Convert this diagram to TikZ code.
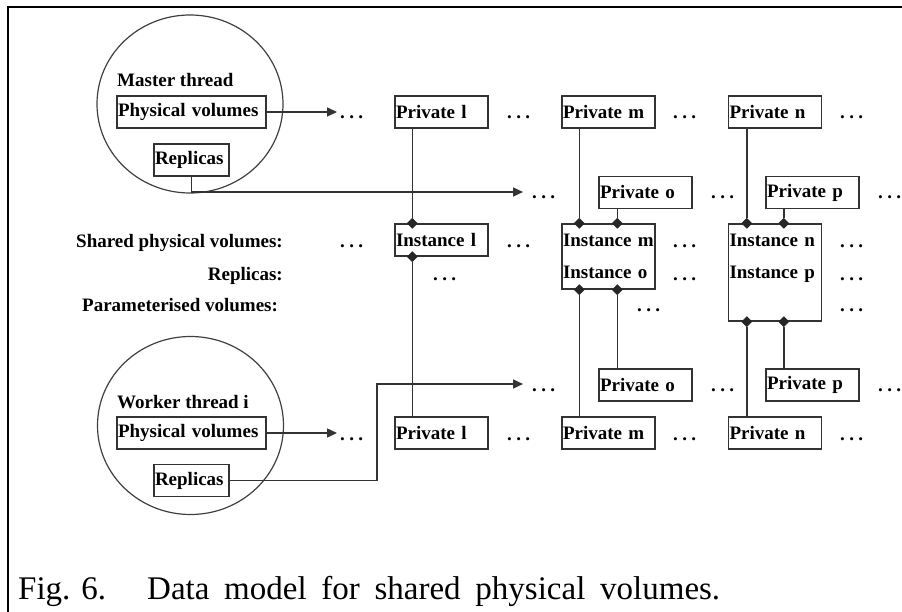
\documentclass[tikz,border=0pt]{standalone}
\usepackage{fontspec}
\setmainfont{Liberation Serif}
\usepackage{tikz}
\usetikzlibrary{shapes}
\usetikzlibrary{shapes.geometric}
\usetikzlibrary{arrows.meta}
\usetikzlibrary{calc}
\newcommand{\trdots}{\hbox to 23pt{.\hss.\hss.}}
\tikzset{
	vol/.style={
		draw=black!80,
		line width=1.4,
		inner xsep=1,
		inner ysep=0,
		text width=#1,
		align=left,
		minimum height=32,
		font=\bfseries\fontsize{19}{32}\selectfont
	},
	vol/.default=91,
	thread/.style={
		ellipse,
		draw=black!75,
		line width=1.2,
		inner sep=0,
		minimum width=186,
		minimum height=178
	},
	dmd/.style={
		diamond,
		fill=black!85,
		inner sep=0,
		minimum size=11
	},
	wire/.style={draw=black!80,line width=1.4},
	arr/.style={wire,-{Triangle[length=10,width=9]}},
	lbl/.style={inner sep=0,font=\bfseries\fontsize{19}{32}\selectfont},
	dts/.style={lbl,anchor=base west}
}

\begin{document}
\begin{tikzpicture}[x=1pt,y=-1pt]
	\useasboundingbox (0,0) rectangle (902,612);
	% frame
	\draw[line width=2.6] (8,640) -- (8,7) -- (930,7);

	% master thread
	\node[thread] (mst) at (190,104) {};
	\node[lbl,anchor=base west] (mstlbl) at (117,87) {Master thread};
	\node[vol=147] (pvm) at (191.5,112) {Physical volumes};
	\node[vol=73] (repm) at (191.5,160) {Replicas};
	\coordinate (tpm) at (337,112);
	\coordinate (cm) at (191.5,192);
	\coordinate (tcm) at (523,192);
	\draw[arr] (pvm.east) -- (tpm);
	\draw[arr] (repm.south) -- (cm) -- (tcm);

	% worker thread
	\node[thread] (wrk) at (190.5,425.5) {};
	\node[lbl,anchor=base west] (wrklbl) at (117,408) {Worker thread i};
	\node[vol=147] (pvw) at (191.5,433) {Physical volumes};
	\node[vol=73] (repw) at (191.5,480.5) {Replicas};
	\coordinate (tpw) at (337,433);
	\coordinate (cw) at (377,384);
	\coordinate (tcw) at (523,384);
	\draw[arr] (pvw.east) -- (tpw);
	\draw[arr] (repw.east) -| (cw) -- (tcw);

	% left labels
	\node[lbl,anchor=base east] (shlbl) at (283,248) {Shared physical volumes:};
	\node[lbl,anchor=base east] (rplbl) at (283,280) {Replicas:};
	\node[lbl,anchor=base west] (prlbl) at (82,312) {Parameterised volumes:};

	% private and instance boxes
	\node[vol] (pl1) at (441.5,112) {Private l};
	\node[vol] (pm1) at (608.5,112) {Private m};
	\node[vol] (pn1) at (775,112) {Private n};
	\node[vol] (po1) at (645.5,192.5) {Private o};
	\node[vol] (pp1) at (812.5,192.5) {Private p};
	\node[vol] (insl) at (441.5,240) {Instance l};
	\node[vol,minimum height=65] (insm) at (608.5,256.5) {Instance m\\Instance o};
	\node[vol,minimum height=97] (insn) at (775,272.5) {Instance n\\Instance p\\\mbox{}};
	\node[vol] (po2) at (645.5,385) {Private o};
	\node[vol] (pp2) at (812.5,385) {Private p};
	\node[vol] (pl2) at (441.5,433) {Private l};
	\node[vol] (pm2) at (608.5,433) {Private m};
	\node[vol] (pn2) at (775,433) {Private n};

	% diamonds
	\node[dmd] (dl1) at ($(insl.north west)+(18,0)$) {};
	\node[dmd] (dl2) at ($(insl.south west)+(18,0)$) {};
	\node[dmd] (dm1) at ($(insm.north west)+(18,0)$) {};
	\node[dmd] (dm2) at ($(insm.north west)+(56,0)$) {};
	\node[dmd] (dm3) at ($(insm.south west)+(18,0)$) {};
	\node[dmd] (dm4) at ($(insm.south west)+(56,0)$) {};
	\node[dmd] (dn1) at ($(insn.north west)+(19,0)$) {};
	\node[dmd] (dn2) at ($(insn.north west)+(56,0)$) {};
	\node[dmd] (dn3) at ($(insn.south west)+(19,0)$) {};
	\node[dmd] (dn4) at ($(insn.south west)+(56,0)$) {};

	\draw[wire] (dl1) -- (dl1 |- pl1.south);
	\draw[wire] (dl2) -- (dl2 |- pl2.north);
	\draw[wire] (dm1) -- (dm1 |- pm1.south);
	\draw[wire] (dm2) -- (dm2 |- po1.south);
	\draw[wire] (dm3) -- (dm3 |- pm2.north);
	\draw[wire] (dm4) -- (dm4 |- po2.north);
	\draw[wire] (dn1) -- (dn1 |- pn1.south);
	\draw[wire] (dn2) -- (dn2 |- pp1.south);
	\draw[wire] (dn3) -- (dn3 |- pn2.north);
	\draw[wire] (dn4) -- (dn4 |- pp2.north);

	% dots
	\node[dts] (d11) at (340,119) {\trdots};
	\node[dts] (d12) at (507,119) {\trdots};
	\node[dts] (d13) at (673,119) {\trdots};
	\node[dts] (d14) at (840,119) {\trdots};
	\node[dts] (d21) at (532,199) {\trdots};
	\node[dts] (d22) at (711,199) {\trdots};
	\node[dts] (d23) at (878,199) {\trdots};
	\node[dts] (d31) at (340,248) {\trdots};
	\node[dts] (d32) at (507,248) {\trdots};
	\node[dts] (d33) at (673,248) {\trdots};
	\node[dts] (d34) at (840,248) {\trdots};
	\node[dts] (d41) at (433,280) {\trdots};
	\node[dts] (d42) at (673,280) {\trdots};
	\node[dts] (d43) at (840,280) {\trdots};
	\node[dts] (d51) at (637,312) {\trdots};
	\node[dts] (d52) at (840,312) {\trdots};
	\node[dts] (d61) at (532,391) {\trdots};
	\node[dts] (d62) at (711,391) {\trdots};
	\node[dts] (d63) at (878,391) {\trdots};
	\node[dts] (d71) at (340,440) {\trdots};
	\node[dts] (d72) at (507,440) {\trdots};
	\node[dts] (d73) at (673,440) {\trdots};
	\node[dts] (d74) at (840,440) {\trdots};

	% caption
	\node[anchor=base west,inner sep=0,font=\fontsize{33}{38}\selectfont] (figno) at (18,599) {Fig. 6.};
	\node[anchor=base west,inner sep=0,font=\fontsize{33}{38}\selectfont] (figtxt) at (147,599) {\makebox[573pt][s]{Data model for shared physical volumes.}};
\end{tikzpicture}
\end{document}
